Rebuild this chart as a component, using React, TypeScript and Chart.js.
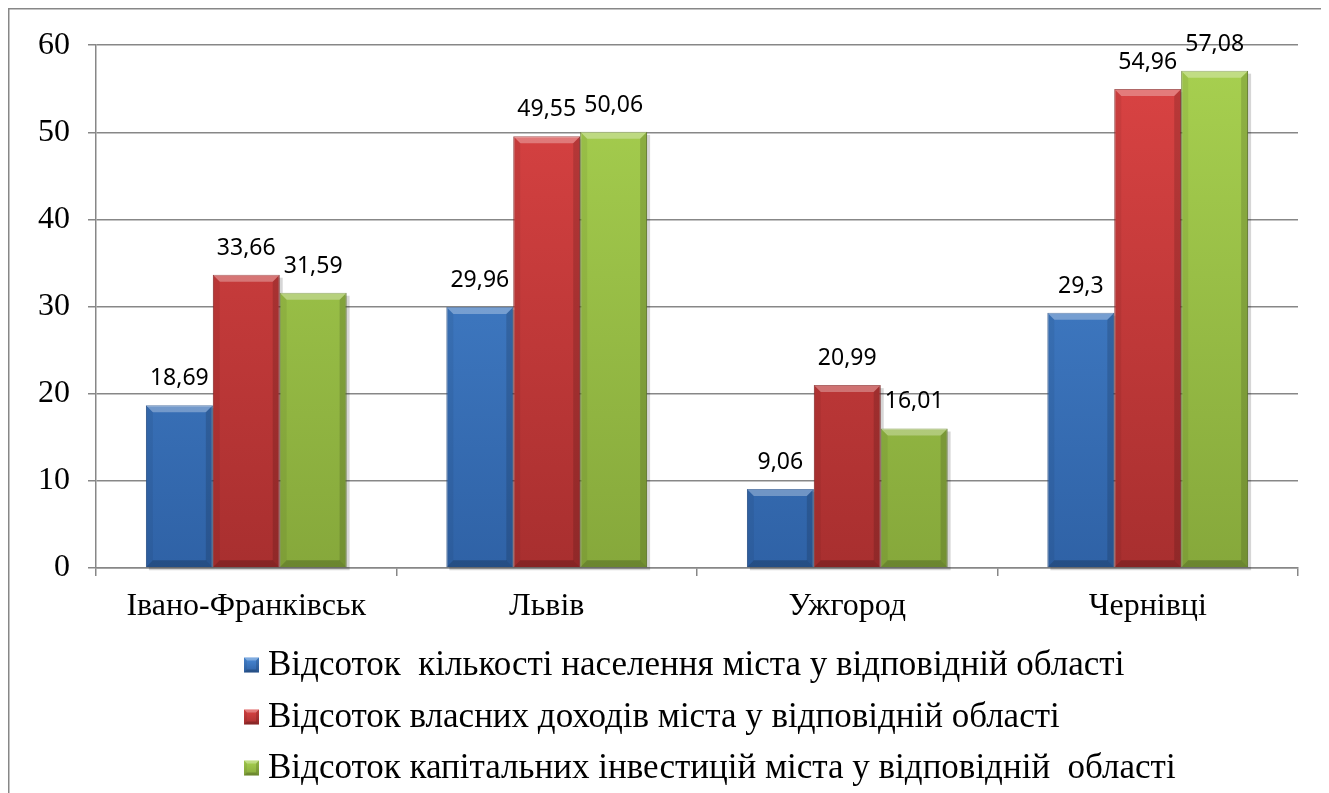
import React, { useEffect, useRef } from "react";
import { Chart, registerables } from "chart.js";

Chart.register(...registerables);

const categories = ["Івано-Франківськ", "Львів", "Ужгород", "Чернівці"];
const populationShare = [18.69, 29.96, 9.06, 29.3];
const incomeShare = [33.66, 49.55, 20.99, 54.96];
const investmentShare = [31.59, 50.06, 16.01, 57.08];
const seriesNames = [
  "Відсоток  кількості населення міста у відповідній області",
  "Відсоток власних доходів міста у відповідній області",
  "Відсоток капітальних інвестицій міста у відповідній  області",
];
const yTicks = { min: 0, max: 60, step: 10 };

const palette = [
  { top: "#4a8ad6", bottom: "#2f62a6", edge: "#2a5590" },
  { top: "#dc4444", bottom: "#a82f2f", edge: "#8f2828" },
  { top: "#a8d150", bottom: "#86a83b", edge: "#6e8a30" },
];

const W = 1321;
const H = 785;
const GRID = "#878787";
const SERIF = "'Liberation Serif', 'Times New Roman', 'DejaVu Serif', serif";

function fmt(v: number) {
  return String(v).replace(".", ",");
}

function bevelRect(ctx: CanvasRenderingContext2D, L: number, T: number, R: number, B: number, b: number) {
  const poly = (pts: number[][], fill: string) => {
    ctx.beginPath();
    ctx.moveTo(pts[0][0], pts[0][1]);
    for (let i = 1; i < pts.length; i++) ctx.lineTo(pts[i][0], pts[i][1]);
    ctx.closePath();
    ctx.fillStyle = fill;
    ctx.fill();
  };
  poly([[L, T], [R, T], [R - b, T + b], [L + b, T + b]], "rgba(255,255,255,0.3)");
  poly([[L, T], [L + b, T + b], [L + b, B - b], [L, B]], "rgba(0,0,0,0.06)");
  poly([[R, T], [R - b, T + b], [R - b, B - b], [R, B]], "rgba(0,0,0,0.14)");
  poly([[L, B], [L + b, B - b], [R - b, B - b], [R, B]], "rgba(0,0,0,0.2)");
}

const decorPlugin = {
  id: "decor",
  beforeDraw(chart: any) {
    const ctx = chart.ctx as CanvasRenderingContext2D;
    ctx.save();
    ctx.fillStyle = "#ffffff";
    ctx.fillRect(0, 0, chart.width, chart.height);
    ctx.strokeStyle = GRID;
    ctx.lineWidth = 1.5;
    ctx.beginPath();
    ctx.moveTo(0.75, chart.height);
    ctx.lineTo(0.75, 0.75);
    ctx.lineTo(chart.width, 0.75);
    ctx.stroke();
    ctx.restore();
  },
  beforeDatasetsDraw(chart: any) {
    const ctx = chart.ctx as CanvasRenderingContext2D;
    ctx.save();
    chart.data.datasets.forEach((_: any, di: number) => {
      const meta = chart.getDatasetMeta(di);
      meta.data.forEach((bar: any) => {
        const L = bar.x - bar.width / 2;
        ctx.fillStyle = "rgba(0,0,0,0.16)";
        ctx.fillRect(L + 3, bar.y + 3, bar.width, bar.base - bar.y);
      });
    });
    ctx.restore();
  },
  afterDatasetsDraw(chart: any) {
    const ctx = chart.ctx as CanvasRenderingContext2D;
    ctx.save();
    chart.data.datasets.forEach((ds: any, di: number) => {
      const meta = chart.getDatasetMeta(di);
      meta.data.forEach((bar: any, i: number) => {
        const L = bar.x - bar.width / 2;
        const R = bar.x + bar.width / 2;
        bevelRect(ctx, L, bar.y, R, bar.base, 7);
        ctx.fillStyle = "#000";
        ctx.font = "23px 'Noto Sans'";
        ctx.textAlign = "center";
        ctx.textBaseline = "alphabetic";
        ctx.fillText(fmt(ds.data[i]), bar.x, bar.y - 20);
      });
    });
    ctx.restore();
  },
  afterDraw(chart: any) {
    const ctx = chart.ctx as CanvasRenderingContext2D;
    ctx.save();
    const rows = [657, 709, 760];
    seriesNames.forEach((name, i) => {
      const y = rows[i];
      const sx = 236;
      const s = 15;
      const g = ctx.createLinearGradient(0, y - s / 2, 0, y + s / 2);
      g.addColorStop(0, palette[i].top);
      g.addColorStop(1, palette[i].bottom);
      ctx.fillStyle = g;
      ctx.fillRect(sx, y - s / 2, s, s);
      bevelRect(ctx, sx, y - s / 2, sx + s, y + s / 2, 3);
      ctx.fillStyle = "#000";
      ctx.font = "35px " + SERIF;
      ctx.textAlign = "left";
      ctx.textBaseline = "middle";
      ctx.fillText(name, sx + s + 9, y + 1);
    });
    ctx.restore();
  },
};

function makeBg(i: number) {
  return (c: any) => {
    const area = c.chart.chartArea;
    if (!area) return palette[i].top;
    const g = c.chart.ctx.createLinearGradient(0, area.top, 0, area.bottom);
    g.addColorStop(0, palette[i].top);
    g.addColorStop(1, palette[i].bottom);
    return g;
  };
}

export default function App() {
  const ref = useRef<HTMLCanvasElement | null>(null);
  useEffect(() => {
    document.body.style.overflow = "hidden";
    const canvas = ref.current!;
    const series = [populationShare, incomeShare, investmentShare];
    let chart: Chart | null = null;
    let cancelled = false;
    const build = () => {
      if (cancelled) return;
      chart = new Chart(canvas, {
        type: "bar",
        data: {
          labels: categories,
          datasets: series.map((d, i) => ({
            label: seriesNames[i],
            data: d,
            backgroundColor: makeBg(i),
            borderColor: palette[i].edge,
            borderWidth: 1,
            categoryPercentage: 0.668,
            barPercentage: 1,
          })),
        },
        options: {
          animation: false,
          responsive: false,
          devicePixelRatio: 1,
          layout: { padding: { top: 35, right: 31, left: 0, bottom: 0 } },
          plugins: { legend: { display: false }, tooltip: { enabled: false } },
          scales: {
            x: {
              grid: {
                offset: true,
                drawOnChartArea: false,
                drawTicks: true,
                tickLength: 8,
                color: GRID,
                lineWidth: 1.5,
              },
              border: { color: GRID, width: 1.5 },
              ticks: {
                color: "#000",
                font: { family: SERIF, size: 32 },
                padding: 11,
                maxRotation: 0,
              },
              afterFit: (s: any) => {
                s.height = 225;
              },
            },
            y: {
              min: yTicks.min,
              max: yTicks.max,
              ticks: {
                stepSize: yTicks.step,
                color: "#000",
                font: { family: SERIF, size: 32 },
                padding: 18,
              },
              grid: { color: GRID, lineWidth: 1.5, tickLength: 8 },
              border: { color: GRID, width: 1.5 },
              afterFit: (s: any) => {
                s.width = 88;
              },
            },
          },
        },
        plugins: [decorPlugin],
      });
    };
    const fontsReady = (document as any).fonts
      ? Promise.all([
          (document as any).fonts.load("32px 'Liberation Serif'", "Відсоток 0123"),
          (document as any).fonts.load("23px 'Noto Sans'", "0123,"),
        ]).catch(() => null)
      : Promise.resolve(null);
    fontsReady.then(build);
    return () => {
      cancelled = true;
      if (chart) chart.destroy();
    };
  }, []);
  return (
    <div style={{ width: W, height: H }}>
      <canvas ref={ref} width={W} height={H} style={{ display: "block" }} />
    </div>
  );
}
